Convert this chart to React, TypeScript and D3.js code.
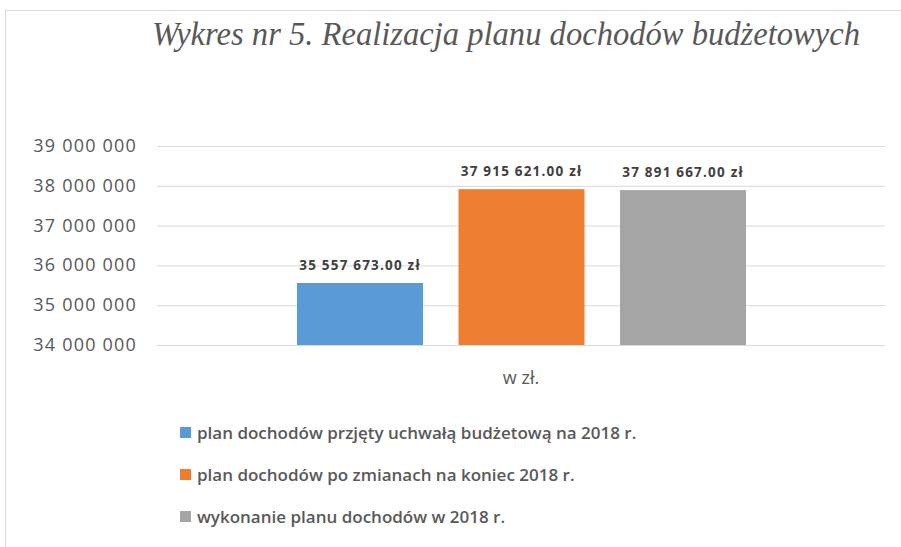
import React, { useEffect, useRef } from "react";
import * as d3 from "d3";

const categories = ["w zł."];
const seriesNames = [
  "plan dochodów przjęty uchwałą budżetową na 2018 r.",
  "plan dochodów po zmianach na koniec 2018 r.",
  "wykonanie planu dochodów w 2018 r.",
];
const seriesValues = [35557673, 37915621, 37891667];
const seriesColors = ["#5b9bd5", "#ed7d31", "#a5a5a5"];
const yTicks = [34000000, 35000000, 36000000, 37000000, 38000000, 39000000];

const W = 901;
const H = 547;

const fmtInt = (v: number) => d3.format(",")(v).replace(/,/g, " ");
const fmtMoney = (v: number) => d3.format(",.2f")(v).replace(/,/g, " ") + " zł";

export default function App() {
  const ref = useRef<SVGSVGElement | null>(null);

  useEffect(() => {
    const svg = d3.select(ref.current);
    svg.selectAll("*").remove();

    // frame
    svg.append("rect").attr("x", 5.5).attr("y", 10.5).attr("width", W).attr("height", H)
      .attr("fill", "none").attr("stroke", "#d9d9d9");

    svg.append("text")
      .attr("x", 152).attr("y", 45)
      .attr("textLength", 708)
      .attr("lengthAdjust", "spacingAndGlyphs")
      .attr("font-family", "Liberation Serif")
      .attr("font-style", "italic")
      .attr("font-size", 33)
      .attr("fill", "#595959")
      .text("Wykres nr 5. Realizacja planu dochodów budżetowych");

    const x0 = d3.scaleBand().domain(categories).range([157, 885]);
    const x1 = d3.scaleBand().domain(seriesNames).range([140, 589]).paddingInner(0.22);
    const y = d3.scaleLinear().domain([34000000, 39000000]).range([345, 146]);

    const grid = svg.append("g").attr("transform", "translate(157,0)")
      .call(d3.axisLeft(y).tickValues(yTicks).tickSize(-728).tickFormat(() => ""));
    grid.select(".domain").remove();
    grid.selectAll("line").attr("stroke", "#d9d9d9");

    svg.append("g").selectAll("text").data(yTicks).join("text")
      .attr("x", 137).attr("y", (d) => y(d) + 6)
      .attr("text-anchor", "end")
      .attr("font-family", "Open Sans")
      .attr("font-size", 18)
      .attr("letter-spacing", 1.2)
      .attr("fill", "#595959")
      .text((d) => fmtInt(d));

    const g = svg.append("g").attr("transform", `translate(${x0(categories[0])},0)`);
    g.selectAll("rect").data(seriesValues).join("rect")
      .attr("x", (_, i) => x1(seriesNames[i])!)
      .attr("width", x1.bandwidth())
      .attr("y", (d) => y(d))
      .attr("height", (d) => y(34000000) - y(d))
      .attr("fill", (_, i) => seriesColors[i]);

    g.selectAll("text").data(seriesValues).join("text")
      .attr("x", (_, i) => x1(seriesNames[i])! + x1.bandwidth() / 2)
      .attr("y", (d) => y(d) - 13)
      .attr("text-anchor", "middle")
      .attr("font-family", "Open Sans")
      .attr("font-weight", "bold")
      .attr("font-size", 13.5)
      .attr("letter-spacing", 1.2)
      .attr("fill", "#404040")
      .text((d) => fmtMoney(d));

    svg.append("text")
      .attr("x", x0(categories[0])! + x0.bandwidth() / 2).attr("y", 384)
      .attr("text-anchor", "middle")
      .attr("font-family", "Open Sans")
      .attr("font-size", 18)
      .attr("fill", "#595959")
      .text(categories[0]);

    const leg = svg.append("g").selectAll("g").data(seriesNames).join("g")
      .attr("transform", (_, i) => `translate(180,${433 + i * 42})`);
    leg.append("rect").attr("x", 0).attr("y", -6).attr("width", 11).attr("height", 11)
      .attr("fill", (_, i) => seriesColors[i]);
    leg.append("text").attr("x", 17).attr("y", 6)
      .attr("font-family", "Open Sans")
      .attr("font-weight", 600)
      .attr("font-size", 17)
      .attr("fill", "#595959")
      .text((d) => d);
  }, []);

  return (
    <svg ref={ref} width={W} height={H}
      style={{ position: "absolute", left: 0, top: 0, background: "#fff" }} />
  );
}
